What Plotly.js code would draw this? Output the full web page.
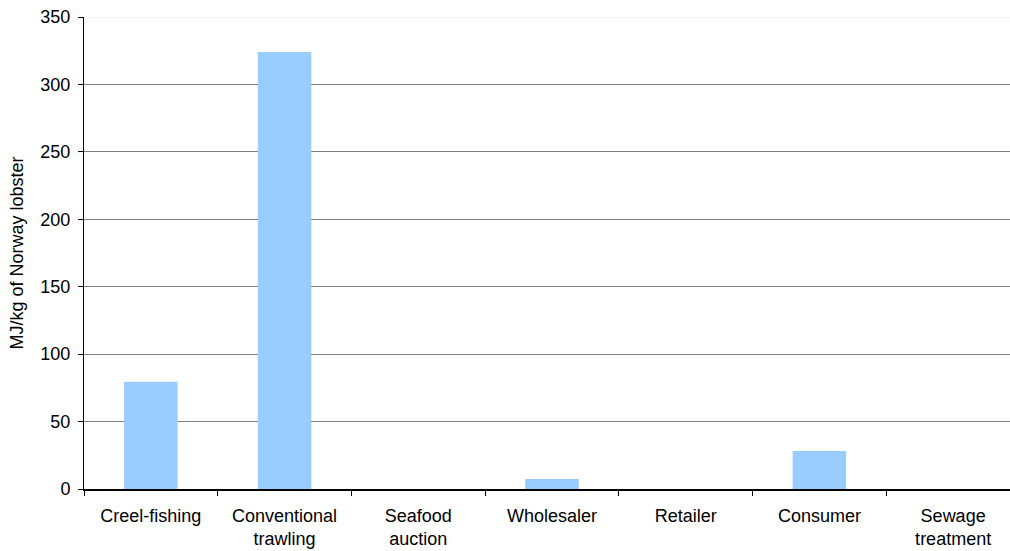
<!DOCTYPE html>
<html>
<head>
<meta charset="utf-8">
<script src="https://cdn.plot.ly/plotly-3.0.1.min.js"></script>
<style>
html, body { margin: 0; padding: 0; overflow: hidden; background: #fff; }
#chart { width: 1024px; height: 551px; }
</style>
</head>
<body>
<div id="chart"></div>
<script>
const categories = ["Creel-fishing", "Conventional<br>trawling", "Seafood<br>auction", "Wholesaler", "Retailer", "Consumer", "Sewage<br>treatment"];
const energyValues = [79.5, 324, 0, 7.5, 0, 28.2, 0];
const yTickValues = [0, 50, 100, 150, 200, 250, 300, 350];
const yMax = 350;

const trace = {
  type: "bar",
  x: categories,
  y: energyValues,
  marker: { color: "#99CCFF", line: { width: 0 } },
  hoverinfo: "x+y"
};

const layout = {
  width: 1024,
  height: 551,
  margin: { l: 84, r: 4, t: 17, b: 62 },
  paper_bgcolor: "#ffffff",
  plot_bgcolor: "#ffffff",
  bargap: 0.6,
  showlegend: false,
  font: { family: "Liberation Sans, Arial, sans-serif", color: "#000000", size: 18 },
  xaxis: {
    type: "category",
    showline: true,
    linecolor: "#000000",
    linewidth: 2,
    ticks: "outside",
    tickson: "boundaries",
    ticklen: 5,
    tickcolor: "#000000",
    tickwidth: 1,
    showgrid: false,
    ticklabelstandoff: 9,
    tickfont: { size: 18 }
  },
  yaxis: {
    range: [0, yMax],
    tickvals: yTickValues,
    ticktext: yTickValues.map(String),
    showline: true,
    linecolor: "#000000",
    linewidth: 1,
    ticks: "outside",
    ticklen: 5,
    tickcolor: "#000000",
    showgrid: true,
    gridcolor: "#808080",
    gridwidth: 1,
    zeroline: false,
    ticklabelstandoff: 4,
    tickfont: { size: 18 },
    title: { text: "MJ/kg of Norway lobster", font: { size: 18 }, standoff: 12 }
  },
  shapes: [{
    type: "line", xref: "paper", x0: 0, x1: 1, yref: "y", y0: yMax, y1: yMax,
    line: { color: "#e4e4e4", width: 1 }, layer: "above"
  }]
};

Plotly.newPlot("chart", [trace], layout, { displayModeBar: false, staticPlot: true });
</script>
</body>
</html>
